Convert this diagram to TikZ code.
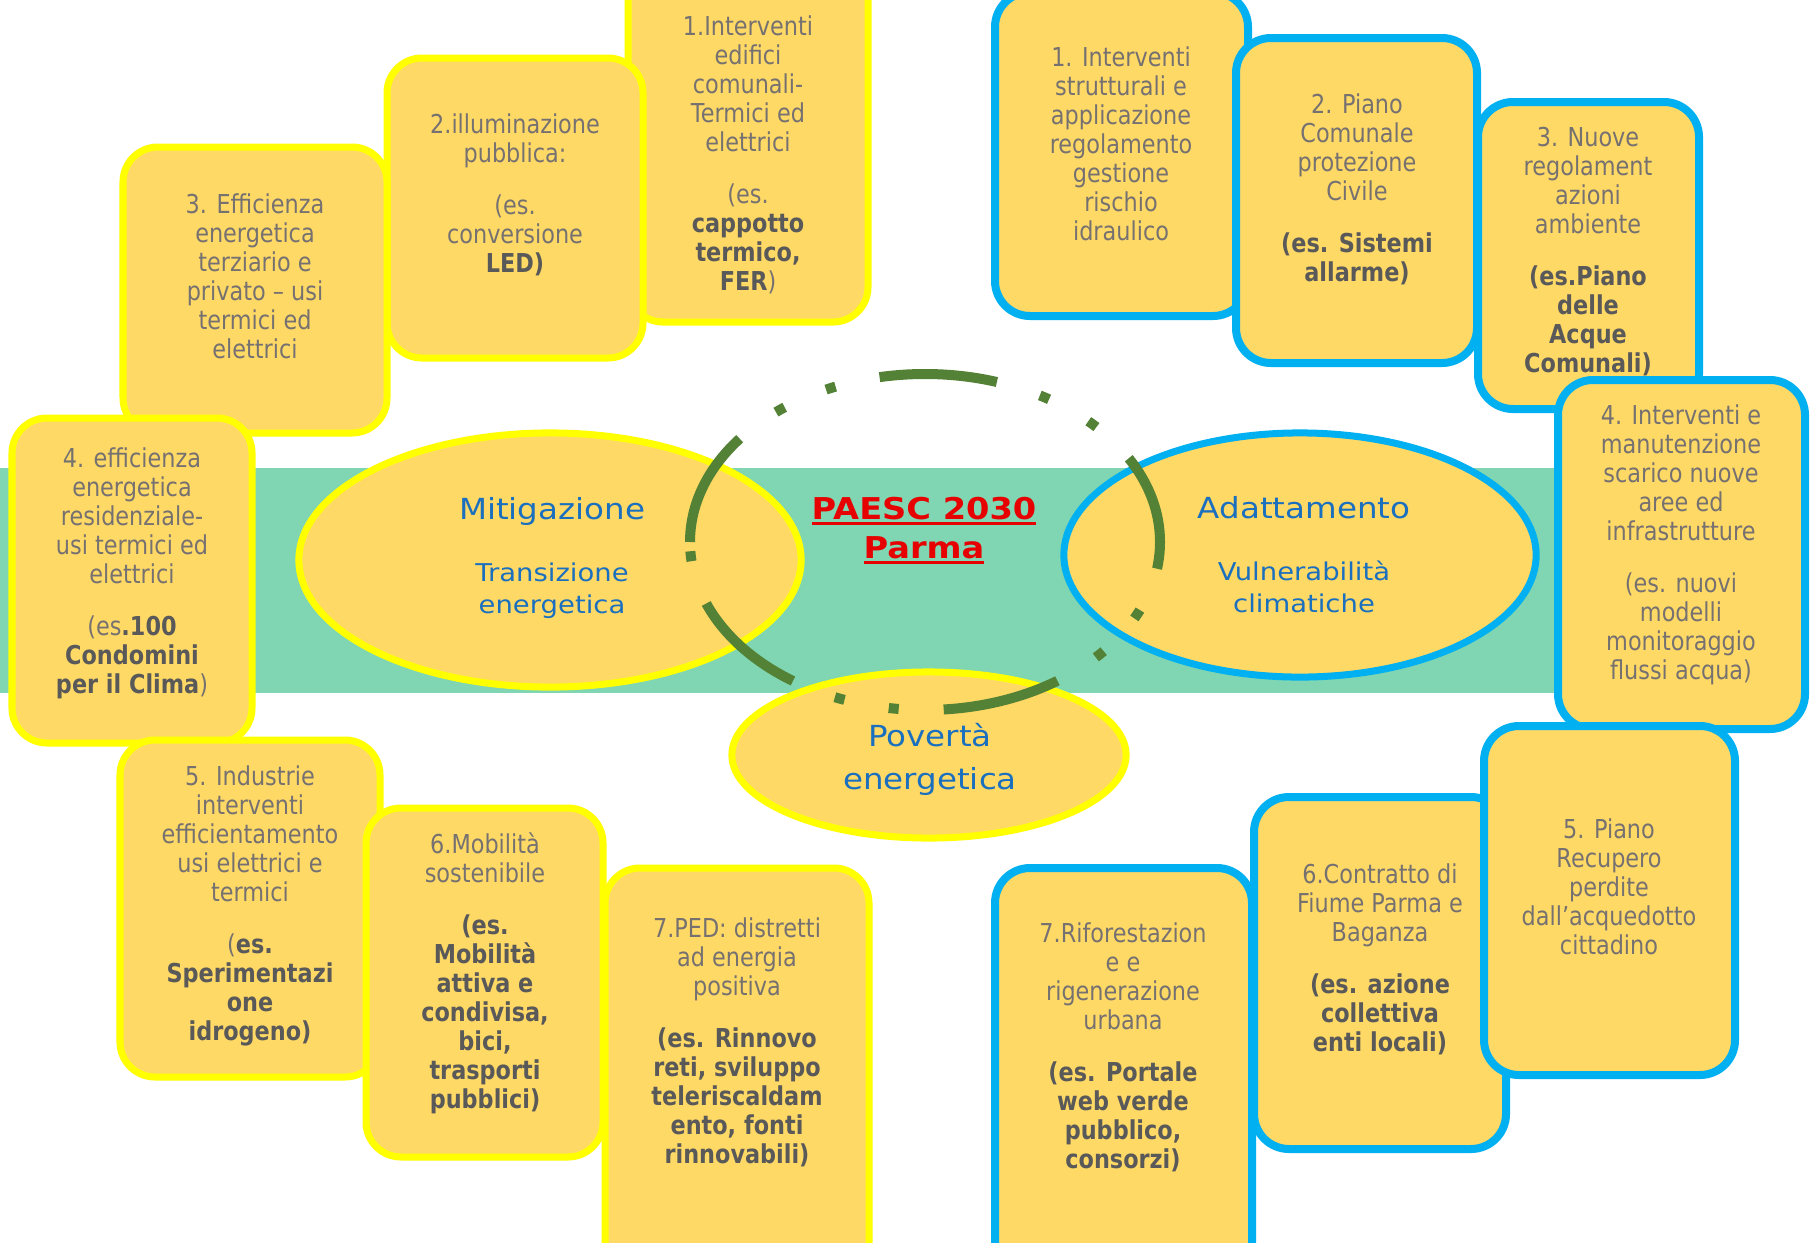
\documentclass[tikz,border=0pt]{standalone}
\usepackage{fontspec}
\setmainfont{DejaVu Sans}
\newfontfamily\narrowf{DejaVu Sans}[FakeStretch=0.86]
\newfontfamily\widef{DejaVu Sans}[FakeStretch=1.12]
\usetikzlibrary{shapes.geometric}
\definecolor{boxfill}{HTML}{FFD966}
\definecolor{ybord}{HTML}{FFFF00}
\definecolor{bbord}{HTML}{00B0F0}
\definecolor{bandc}{HTML}{80D6B2}
\definecolor{dgreen}{HTML}{538135}
\definecolor{txtg}{HTML}{767171}
\definecolor{txtb}{HTML}{595959}
\definecolor{eblue}{HTML}{1A6FBF}
\definecolor{pred}{HTML}{E60000}
\newcommand\B[1]{{\bfseries\color{txtb}#1}}
\newcommand\pgap{\\[0.23cm]}
\newcommand\redul[1]{\setbox0\hbox{#1}\rlap{\rule[-1.8pt]{\wd0}{0.9pt}}\box0}
\newcommand\rbox[6]{\node[#2, minimum width={(#5-#3)*0.01cm}, minimum height={(#6-#4)*0.01cm}] (#1) at ({(#3+#5)/2},{(#4+#6)/2}) {};}
\newcommand\btext[4]{\node[btxt] (#1) at (#2,#3) {\strut #4};}
\begin{document}
\begin{tikzpicture}[x=0.01cm, y=-0.01cm,
  ybox/.style={rectangle, draw=ybord, line width=0.07cm, fill=boxfill, rounded corners=0.35cm, inner sep=0, outer sep=0},
  bbox/.style={rectangle, draw=bbord, line width=0.08cm, fill=boxfill, rounded corners=0.35cm, inner sep=0, outer sep=0},
  btxt/.style={anchor=north, align=center, inner sep=0, text=txtg, font=\narrowf\fontsize{0.26cm}{0.29cm}\selectfont},
  ell/.style={ellipse, fill=boxfill, line width=0.07cm, inner sep=0},
  etitle/.style={anchor=base, inner sep=0, text=eblue, font=\widef\fontsize{0.29cm}{0.35cm}\selectfont},
  esub/.style={anchor=north, align=center, inner sep=0, text=eblue, font=\widef\fontsize{0.245cm}{0.32cm}\selectfont},
  ring/.style={draw=dgreen, line width=0.1cm, dash pattern=on 1.18cm off 0.45cm on 0.1cm off 0.45cm on 0.1cm off 0.45cm}
]
\useasboundingbox (0,0) rectangle (1812,1242);
\clip (0,0) rectangle (1812,1242);
\fill[white] (0,0) rectangle (1812,1242);

% green band
\fill[bandc] (-10,468) rectangle (1600,693);

% central ellipses
\node[ell, draw=ybord, minimum width=5.02cm, minimum height=2.54cm] (mit) at (550,560) {};
\node[ell, draw=bbord, minimum width=4.72cm, minimum height=2.44cm] (ada) at (1300,555) {};
\node[ell, draw=ybord, minimum width=3.94cm, minimum height=1.66cm] (pov) at (929,755) {};

% dashed ring
\coordinate (ringc) at (925,542);
\draw[ring] (ringc) ++(180:235 and 168) arc[start angle=180, end angle=540, x radius=235, y radius=168];

% ellipse texts
\node[etitle] (mitt) at (552,519) {Mitigazione};
\node[esub] (mits) at (552,558) {\strut Transizione\\energetica};
\node[etitle] (adat) at (1304,518) {Adattamento};
\node[esub] (adas) at (1304,557) {\strut Vulnerabilità\\climatiche};
\node[anchor=north, align=center, inner sep=0, text=eblue, font=\widef\fontsize{0.29cm}{0.43cm}\selectfont] (povt) at (930,716) {\strut Povertà\\energetica};
\node[anchor=north, align=center, inner sep=0, text=pred, font=\widef\bfseries\fontsize{0.30cm}{0.39cm}\selectfont] (title) at (924,491) {\strut\redul{PAESC 2030}\\\redul{Parma}};

% Mitigazione boxes
\rbox{m1}{ybox}{628}{-40}{868}{322}
\btext{m1t}{748}{14}{1.Interventi\\edifici\\comunali-\\Termici ed\\elettrici\pgap (es.\\\B{cappotto}\\\B{termico,}\\\B{FER})}
\rbox{m2}{ybox}{387}{58}{643}{358}
\btext{m2t}{515}{112}{2.illuminazione\\pubblica:\pgap (es.\\conversione\\\B{LED)}}
\rbox{m3}{ybox}{123}{147}{387}{433}
\btext{m3t}{255}{192}{3. Efficienza\\energetica\\terziario e\\privato – usi\\termici ed\\elettrici}
\rbox{m4}{ybox}{12}{418}{252}{743}
\btext{m4t}{132}{446}{4. efficienza\\energetica\\residenziale-\\usi termici ed\\elettrici\pgap (es\B{.100}\\\B{Condomini}\\\B{per il Clima})}
\rbox{m5}{ybox}{120}{740}{380}{1077}
\btext{m5t}{250}{764}{5. Industrie\\interventi\\efficientamento\\usi elettrici e\\termici\pgap (\B{es.}\\\B{Sperimentazi}\\\B{one}\\\B{idrogeno)}}
\rbox{m6}{ybox}{366}{808}{603}{1157}
\btext{m6t}{485}{832}{6.Mobilità\\sostenibile\pgap \B{(es.}\\\B{Mobilità}\\\B{attiva e}\\\B{condivisa,}\\\B{bici,}\\\B{trasporti}\\\B{pubblici)}}
\rbox{m7}{ybox}{605}{868}{869}{1290}
\btext{m7t}{737}{916}{7.PED: distretti\\ad energia\\positiva\pgap \B{(es. Rinnovo}\\\B{reti, sviluppo}\\\B{teleriscaldam}\\\B{ento, fonti}\\\B{rinnovabili)}}

% Adattamento boxes
\rbox{a1}{bbox}{995}{-8}{1248}{316}
\btext{a1t}{1121}{45}{1. Interventi\\strutturali e\\applicazione\\regolamento\\gestione\\rischio\\idraulico}
\rbox{a2}{bbox}{1236}{38}{1477}{363}
\btext{a2t}{1357}{92}{2. Piano\\Comunale\\protezione\\Civile\pgap \B{(es. Sistemi}\\\B{allarme)}}
\rbox{a3}{bbox}{1478}{102}{1699}{409}
\btext{a3t}{1588}{125}{3. Nuove\\regolament\\azioni\\ambiente\pgap \B{(es.Piano}\\\B{delle}\\\B{Acque}\\\B{Comunali)}}
\rbox{a4}{bbox}{1558}{380}{1805}{729}
\btext{a4t}{1681}{403}{4. Interventi e\\manutenzione\\scarico nuove\\aree ed\\infrastrutture\pgap (es. nuovi\\modelli\\monitoraggio\\flussi acqua)}
\rbox{a7}{bbox}{995}{868}{1252}{1290}
\btext{a7t}{1123}{921}{7.Riforestazion\\e e\\rigenerazione\\urbana\pgap \B{(es. Portale}\\\B{web verde}\\\B{pubblico,}\\\B{consorzi)}}
\rbox{a6}{bbox}{1254}{797}{1506}{1149}
\btext{a6t}{1380}{862}{6.Contratto di\\Fiume Parma e\\Baganza\pgap \B{(es. azione}\\\B{collettiva}\\\B{enti locali)}}
\rbox{a5}{bbox}{1484}{726}{1735}{1075}
\btext{a5t}{1609}{817}{5. Piano\\Recupero\\perdite\\dall’acquedotto\\cittadino}
\end{tikzpicture}
\end{document}
